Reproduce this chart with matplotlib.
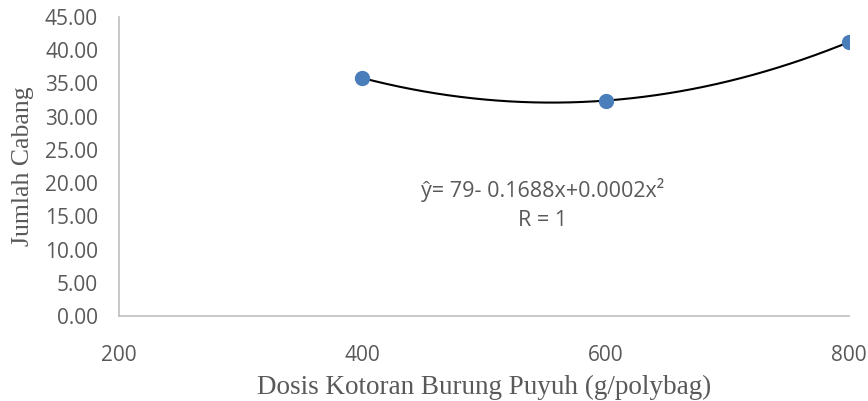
import numpy as np
import matplotlib.pyplot as plt

# Data
dosis = [400, 600, 800]
jumlah_cabang = [35.8, 32.4, 41.2]
x_ticks = [200, 400, 600, 800]
y_ticks = [0, 5, 10, 15, 20, 25, 30, 35, 40, 45]

grey = '#595959'

fig = plt.figure(figsize=(8.68, 4.01), dpi=100)
ax = fig.add_axes([0.137, 0.212, 0.841, 0.746])

# Polynomial trendline (order 2) through the points
koef = np.polyfit(dosis, jumlah_cabang, 2)
xs = np.linspace(min(dosis), max(dosis), 200)
ax.plot(xs, np.polyval(koef, xs), color='black', lw=1.5, zorder=2)
ax.plot(dosis, jumlah_cabang, 'o', color='#4A7EBB', markersize=10, zorder=3)

ax.set_xlim(200, 800)
ax.set_ylim(0, 45)
ax.set_xticks(x_ticks)
ax.set_yticks(y_ticks)
ax.set_yticklabels([f'{v:.2f}' for v in y_ticks])
ax.tick_params(length=0, labelsize=15, labelcolor=grey)
ax.tick_params(axis='y', pad=15)
ax.tick_params(axis='x', pad=21)
for lab in ax.get_xticklabels() + ax.get_yticklabels():
    lab.set_family('Open Sans')

for s in ['top', 'right']:
    ax.spines[s].set_visible(False)
for s in ['left', 'bottom']:
    ax.spines[s].set_color('#bfbfbf')
    ax.spines[s].set_linewidth(1.2)

ax.set_xlabel('Dosis Kotoran Burung Puyuh (g/polybag)', family='Liberation Serif',
              fontsize=19.5, color=grey, labelpad=6)
ax.set_ylabel('Jumlah Cabang', family='Liberation Serif', fontsize=18.5,
              color=grey, labelpad=8)

ax.text(0.581, 0.373, 'ŷ= 79- 0.1688x+0.0002x²\nR = 1', transform=ax.transAxes,
        ha='center', va='center', fontsize=15.5, color=grey, family='Open Sans',
        linespacing=1.5)

fig.savefig('out.png', dpi=100)
